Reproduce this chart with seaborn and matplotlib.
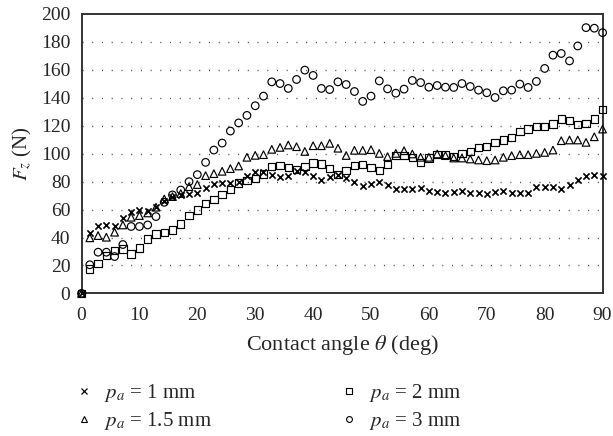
import numpy as np
import pandas as pd
import matplotlib
matplotlib.use("Agg")
import matplotlib.pyplot as plt
from matplotlib.lines import Line2D
import seaborn as sns

angle = [0.0, 1.43, 2.86, 4.29, 5.71, 7.14, 8.57, 10.0, 11.43, 12.86, 14.29, 15.71,
         17.14, 18.57, 20.0, 21.43, 22.86, 24.29, 25.71, 27.14, 28.57, 30.0, 31.43,
         32.86, 34.29, 35.71, 37.14, 38.57, 40.0, 41.43, 42.86, 44.29, 45.71, 47.14,
         48.57, 50.0, 51.43, 52.86, 54.29, 55.71, 57.14, 58.57, 60.0, 61.43, 62.86,
         64.29, 65.71, 67.14, 68.57, 70.0, 71.43, 72.86, 74.29, 75.71, 77.14, 78.57,
         80.0, 81.43, 82.86, 84.29, 85.71, 87.14, 88.57, 90.0]

fz_1mm = [0, 43.1, 48.6, 49.3, 48.6, 53.8, 58.1, 59.8, 59.3, 62.1, 66.4, 69.3, 70.7, 71.2, 72.1, 75.7, 78.5,
          78.8, 79.3, 79.8, 83.8, 86.7, 86.7, 85.0, 83.1, 84.3, 87.9, 86.7, 84.3, 81.2, 83.6, 85.0, 82.3,
          79.5, 76.7, 78.3, 79.5, 77.9, 74.8, 74.8, 74.8, 75.2, 73.6, 72.4, 71.7, 72.4, 73.1, 71.7,
          71.7, 71.2, 72.4, 73.1, 71.9, 71.7, 71.7, 75.9, 75.9, 75.9, 74.8, 77.6, 81.4, 83.8, 85.0, 84.3]

fz_15mm = [0, 39.8, 41.4, 40.2, 43.8, 49.0, 54.5, 55.7, 57.6, 61.7, 67.6, 69.3, 71.5, 76.4, 77.9, 84.3, 85.7,
           87.4, 89.3, 91.2, 97.4, 98.8, 99.3, 103.1, 104.5, 106.2, 105.0, 101.6, 105.7, 105.7, 107.4, 103.9, 98.7,
           102.4, 102.4, 102.9, 100.2, 97.9, 100.2, 102.1, 99.8, 97.4, 97.4, 99.8, 98.6, 96.9, 96.9, 96.2,
           95.5, 95.0, 95.5, 97.4, 98.6, 99.3, 99.3, 100.2, 100.9, 102.6, 109.3, 109.8, 109.8, 108.1, 112.1, 117.6]

fz_2mm = [0, 17.6, 21.2, 27.1, 30.7, 31.9, 28.3, 32.6, 39.0, 42.6, 43.8, 45.5, 49.8, 55.7, 59.8, 64.2, 67.0,
          70.9, 74.3, 79.1, 80.9, 82.1, 85.5, 90.7, 91.7, 90.2, 88.6, 90.7, 93.3, 92.6, 89.5, 85.0, 87.9,
          91.4, 92.1, 90.2, 87.9, 92.1, 98.6, 98.6, 97.4, 93.8, 96.9, 99.3, 99.3, 98.1, 100.2, 101.8,
          104.5, 105.2, 108.1, 109.8, 111.7, 115.7, 117.6, 119.5, 119.5, 121.2, 124.8, 123.6, 120.7, 121.6, 124.8, 131.4]

fz_3mm = [0, 20.5, 29.5, 29.5, 26.4, 35.0, 47.9, 47.9, 49.0, 55.0, 65.2, 70.5, 74.0, 80.0, 85.0, 93.8, 102.6,
          107.6, 116.2, 122.0, 127.4, 134.3, 141.2, 151.4, 150.2, 146.7, 153.1, 159.8, 156.0, 146.7, 145.9, 151.4, 149.5,
          144.5, 137.4, 141.2, 152.1, 146.4, 143.3, 146.2, 152.4, 150.9, 147.6, 148.8, 147.6, 147.4, 150.2, 148.1,
          145.5, 143.6, 140.2, 145.0, 145.5, 149.8, 147.4, 151.7, 161.0, 170.5, 171.7, 166.4, 177.1, 190.2, 189.8, 186.6]

labels = [r"$p_a$ = 1 mm", r"$p_a$ = 1.5 mm", r"$p_a$ = 2 mm", r"$p_a$ = 3 mm"]
series = [fz_1mm, fz_15mm, fz_2mm, fz_3mm]
markers = ["x", "^", "s", "o"]
sizes = [20, 30, 28, 30]
x_ticks = [0, 10, 20, 30, 40, 50, 60, 70, 80, 90]
y_ticks = [0, 20, 40, 60, 80, 100, 120, 140, 160, 180, 200]

sns.set_style("white")
plt.rcParams["font.family"] = ["Liberation Serif", "DejaVu Serif"]
plt.rcParams["mathtext.fontset"] = "stix"

fig = plt.figure(figsize=(6.13, 4.36), dpi=100)
ax = fig.add_axes([0.133, 0.327, 0.850, 0.641])

for vals, lab, mk, sz in zip(series, labels, markers, sizes):
    df = pd.DataFrame({"angle": angle, "fz": vals})
    if mk == "x":
        sns.scatterplot(data=df, x="angle", y="fz", ax=ax, marker=mk, s=sz,
                        color="black", linewidth=1.2, clip_on=False, zorder=3,
                        legend=False)
    else:
        sns.scatterplot(data=df, x="angle", y="fz", ax=ax, marker=mk, s=sz,
                        facecolor="none", edgecolor="black", linewidth=0.85,
                        clip_on=False, zorder=3, legend=False)

ax.set_xlim(0, 90)
ax.set_ylim(0, 200)
ax.set_xticks(x_ticks)
ax.set_yticks(y_ticks)
ax.tick_params(axis="x", direction="out", length=4, width=1, color="#333333",
               labelsize=14, pad=6)
ax.tick_params(axis="y", length=0, labelsize=14, pad=8)
for y in y_ticks[1:-1]:
    ax.axhline(y, color="#555555", linewidth=1.0, linestyle=(0, (0.8, 6.2)), zorder=1)
for sp in ax.spines.values():
    sp.set_visible(True)
    sp.set_color("#333333")
    sp.set_linewidth(1.4)

ax.set_xlabel(r"Contact angle $\theta$ (deg)", fontsize=16, labelpad=6)
ax.set_ylabel(r"$F_z$ (N)", fontsize=15, labelpad=5)

def proxy(mk):
    if mk == "x":
        return Line2D([], [], marker="x", linestyle="none", markersize=4.2,
                      color="black", markeredgewidth=0.9)
    return Line2D([], [], marker=mk, linestyle="none", markersize=4.2,
                  markerfacecolor="none", markeredgecolor="black", markeredgewidth=0.8)

leg_kw = dict(loc="center left", frameon=False, fontsize=15, handlelength=1.0,
              handletextpad=0.45, labelspacing=0.30, borderpad=0, borderaxespad=0)
leg1 = fig.legend([proxy(markers[0]), proxy(markers[1])], labels[:2],
                  bbox_to_anchor=(74 / 613, 1 - 407 / 436), **leg_kw)
leg2 = fig.legend([proxy(markers[2]), proxy(markers[3])], labels[2:],
                  bbox_to_anchor=(339 / 613, 1 - 407 / 436), **leg_kw)

fig.savefig("out.png", dpi=100)
